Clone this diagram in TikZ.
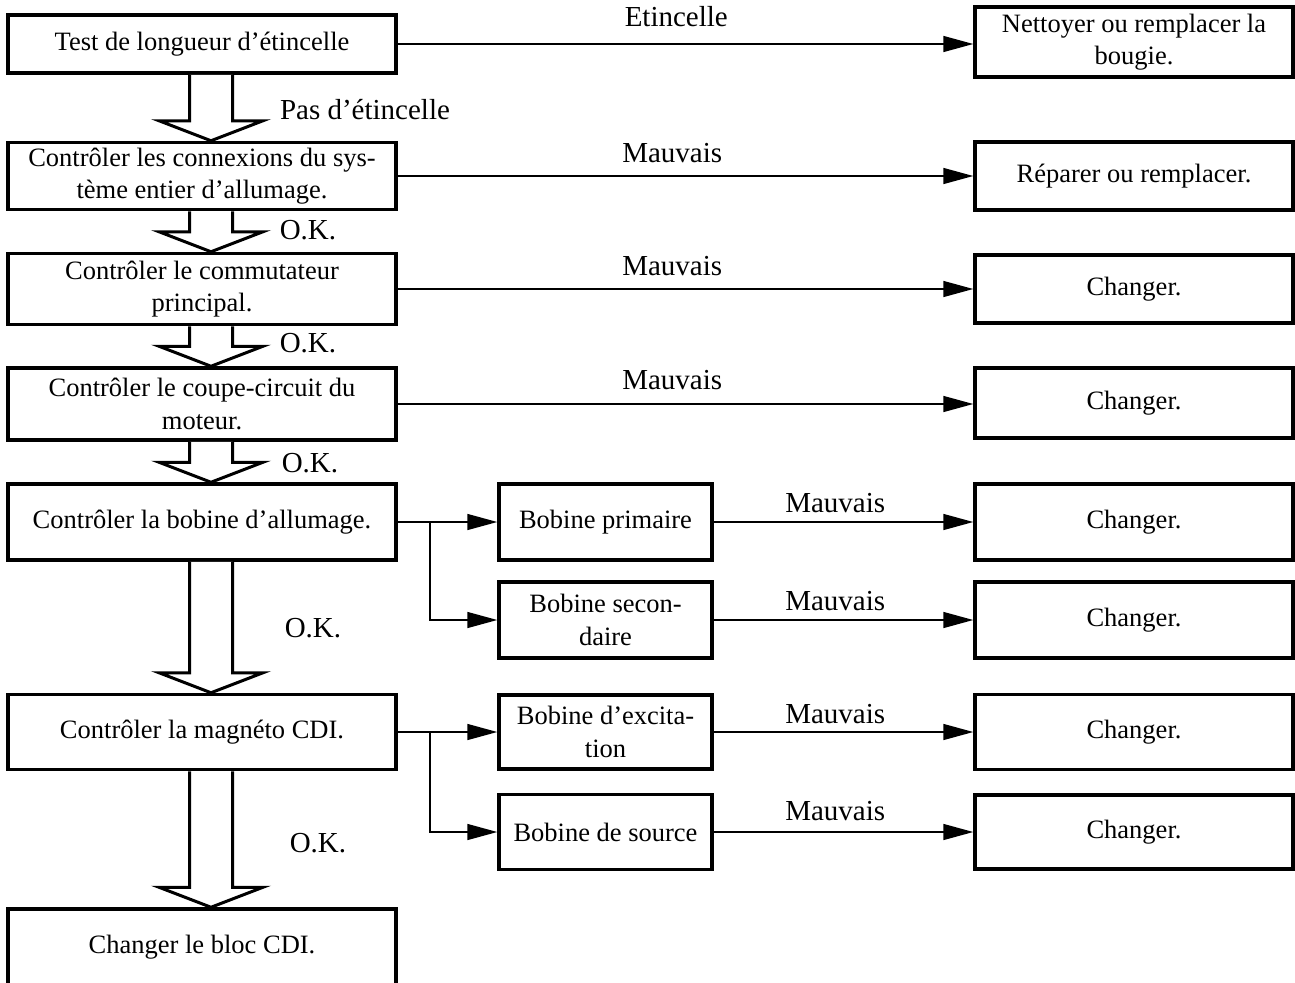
\documentclass[tikz,border=0pt]{standalone}
\usepackage{fontspec}
\setmainfont{Liberation Serif}
\usetikzlibrary{arrows.meta,calc}
\tikzset{
  box/.style={draw, line width=3.5pt, align=center, inner sep=0pt, font=\fontsize{26.5}{32.5}\selectfont},
  lbl/.style={font=\fontsize{29}{34}\selectfont, inner sep=0pt},
  conn/.style={line width=1.5pt, -{Triangle[length=30pt,width=16pt]}},
  link/.style={line width=1.5pt},
  hollow/.style={draw, line width=3pt, fill=white, line join=miter},
}
\newcommand{\hollowarrow}[2]{%
  \draw[hollow] let \p1=(#1.south), \p2=(#2.north) in
    (\x1-12.5pt,\y1) -- (\x1-12.5pt,\y2+20pt) -- (\x1-43pt,\y2+20pt) -- (\x1+9pt,\y2)
    -- (\x1+61pt,\y2+20pt) -- (\x1+30.5pt,\y2+20pt) -- (\x1+30.5pt,\y1);}
\begin{document}
\begin{tikzpicture}[x=1pt,y=-1pt]
\useasboundingbox (0,0) rectangle (1295,982);
% left column
\node[box, minimum width=388pt, minimum height=58pt] (b1) at (202,44) {Test de longueur d’étincelle};
\node[box, minimum width=388pt, minimum height=67pt] (b2) at (202,176) {Contrôler les connexions du sys-\\tème entier d’allumage.};
\node[box, minimum width=388pt, minimum height=71pt] (b3) at (202,289) {Contrôler le commutateur\\principal.};
\node[box, minimum width=388pt, minimum height=72pt] (b4) at (202,404) {Contrôler le coupe-circuit du\\moteur.};
\node[box, minimum width=388pt, minimum height=76pt] (b5) at (202,522) {Contrôler la bobine d’allumage.};
\node[box, minimum width=388pt, minimum height=75pt] (b6) at (202,732) {Contrôler la magnéto CDI.};
\node[box, minimum width=388pt, minimum height=77pt] (b7) at (202,947.5) {Changer le bloc CDI.};
% middle column
\node[box, minimum width=213pt, minimum height=76pt] (m1) at (605.5,522) {Bobine primaire};
\node[box, minimum width=213pt, minimum height=76pt] (m2) at (605.5,620) {Bobine secon-\\daire};
\node[box, minimum width=213pt, minimum height=74pt] (m3) at (605.5,732) {Bobine d’excita-\\tion};
\node[box, minimum width=213pt, minimum height=75pt] (m4) at (605.5,832) {Bobine de source};
% right column
\node[box, minimum width=318pt, minimum height=70pt] (r1) at (1134,42) {Nettoyer ou remplacer la\\bougie.};
\node[box, minimum width=318pt, minimum height=68pt] (r2) at (1134,176) {Réparer ou remplacer.};
\node[box, minimum width=318pt, minimum height=68pt] (r3) at (1134,289) {Changer.};
\node[box, minimum width=318pt, minimum height=70pt] (r4) at (1134,403) {Changer.};
\node[box, minimum width=318pt, minimum height=76pt] (r5) at (1134,522) {Changer.};
\node[box, minimum width=318pt, minimum height=76pt] (r6) at (1134,620) {Changer.};
\node[box, minimum width=318pt, minimum height=75pt] (r7) at (1134,732) {Changer.};
\node[box, minimum width=318pt, minimum height=74pt] (r8) at (1134,832) {Changer.};
% hollow arrows
\hollowarrow{b1}{b2}
\hollowarrow{b2}{b3}
\hollowarrow{b3}{b4}
\hollowarrow{b4}{b5}
\hollowarrow{b5}{b6}
\hollowarrow{b6}{b7}
\node[lbl] (l1) at (365,110) {Pas d’étincelle};
\node[lbl] (l2) at (308,230) {O.K.};
\node[lbl] (l3) at (308,343) {O.K.};
\node[lbl] (l4) at (310,463) {O.K.};
\node[lbl] (l5) at (313,628) {O.K.};
\node[lbl] (l6) at (318,843) {O.K.};
% connectors
\draw[conn] (b1.east) -- node[lbl, pos=0.484, yshift=27pt] {Etincelle} (b1.east -| r1.west);
\draw[conn] (b2.east) -- node[lbl, pos=0.477, yshift=23pt] {Mauvais} (b2.east -| r2.west);
\draw[conn] (b3.east) -- node[lbl, pos=0.477, yshift=23pt] {Mauvais} (b3.east -| r3.west);
\draw[conn] (b4.east) -- node[lbl, pos=0.477, yshift=24pt] {Mauvais} (b4.east -| r4.west);
\coordinate (j1) at (430,522);
\coordinate (j2) at (430,732);
\draw[conn] (b5.east) -- (m1.west);
\draw[conn] (j1) |- (m2.west);
\draw[conn] (b6.east) -- (m3.west);
\draw[conn] (j2) |- (m4.west);
\draw[conn] (m1.east) -- node[lbl, pos=0.468, yshift=19pt] {Mauvais} (r5.west);
\draw[conn] (m2.east) -- node[lbl, pos=0.468, yshift=19pt] {Mauvais} (r6.west);
\draw[conn] (m3.east) -- node[lbl, pos=0.468, yshift=18pt] {Mauvais} (r7.west);
\draw[conn] (m4.east) -- node[lbl, pos=0.468, yshift=21pt] {Mauvais} (r8.west);
\end{tikzpicture}
\end{document}
